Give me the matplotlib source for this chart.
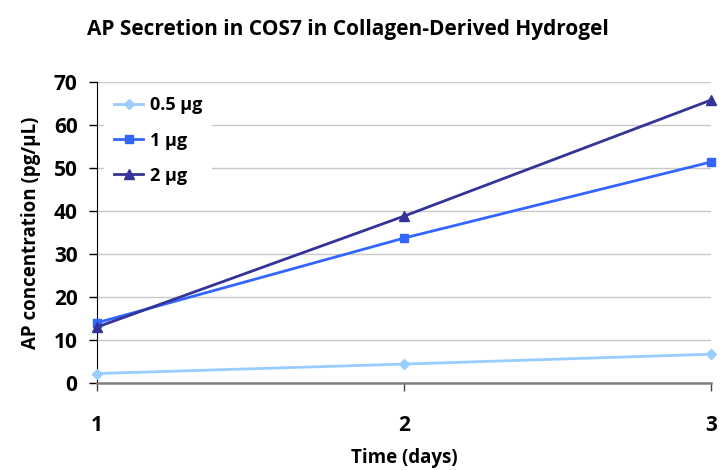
import matplotlib
matplotlib.use("Agg")
import matplotlib.pyplot as plt

plt.rcParams['font.family'] = ['Open Sans', 'DejaVu Sans']

days = [1, 2, 3]
series_names = ["0.5 µg", "1 µg", "2 µg"]
vals_05 = [2.2, 4.4, 6.7]
vals_1 = [14.0, 33.7, 51.4]
vals_2 = [13.0, 38.8, 65.8]
colors = ["#99CCFF", "#3366FF", "#333399"]
markers = ["D", "s", "^"]
msizes = [5.5, 6, 7.5]

fig = plt.figure(figsize=(7.2, 4.7), dpi=100)
ax = fig.add_axes([97/720, 1-383/470, (711-97)/720, (383-82)/470])

for vals, name, c, m, ms in zip([vals_05, vals_1, vals_2], series_names, colors, markers, msizes):
    ax.plot(days, vals, color=c, marker=m, markersize=ms, linewidth=2.0, label=name, clip_on=False, zorder=3)

ax.set_xlim(1, 3)
ax.set_ylim(0, 70)
ax.set_xticks(days)
ax.set_yticks(range(0, 71, 10))
ax.grid(axis='y', color='#c8c8c8', linewidth=1)
ax.set_axisbelow(True)
for s in ['top', 'right']:
    ax.spines[s].set_visible(False)
ax.spines['bottom'].set_color('#808080')
ax.spines['bottom'].set_linewidth(1.8)
ax.spines['left'].set_color('black')
ax.tick_params(axis='both', labelsize=15, length=6, width=1)
ax.tick_params(axis='y', pad=8)
ax.tick_params(axis='x', colors='#444444', labelcolor='black', pad=17)
for lbl in ax.get_xticklabels() + ax.get_yticklabels():
    lbl.set_fontweight('bold')

ax.set_xlabel("Time (days)", fontsize=13.5, fontweight='bold', labelpad=9)
ax.set_ylabel("AP concentration (pg/µL)", fontsize=13.5, fontweight='bold', labelpad=9)
fig.text(87/720, 1-30/470, "AP Secretion in COS7 in Collagen-Derived Hydrogel",
         ha='left', va='center', fontsize=15, fontweight='bold')

leg = ax.legend(loc='upper left', bbox_to_anchor=(0.012, 0.985), frameon=True,
                prop={'size': 13, 'weight': 'bold'}, handlelength=1.6,
                handletextpad=0.35, labelspacing=0.95, borderaxespad=0.0,
                borderpad=0.55)
leg.get_frame().set_edgecolor('none')
leg.get_frame().set_facecolor('white')
leg.get_frame().set_alpha(1)
leg.set_zorder(2)

fig.savefig("out.png", dpi=100)
